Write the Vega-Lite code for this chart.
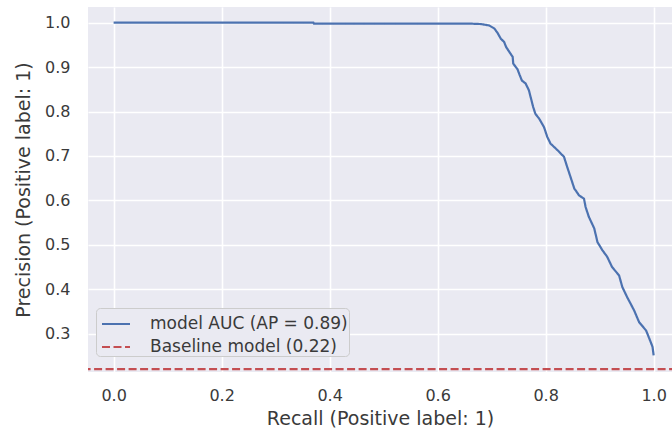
{
  "$schema": "https://vega.github.io/schema/vega-lite/v6.json",
  "width": 584,
  "height": 365,
  "autosize": {"type": "none"},
  "padding": {"left": 88, "top": 7, "right": 0, "bottom": 58},
  "background": "white",
  "config": {
    "font": "DejaVu Sans",
    "view": {"fill": "#EAEAF2", "stroke": null},
    "axis": {
      "grid": true,
      "gridColor": "white",
      "gridWidth": 1.6,
      "domain": false,
      "ticks": false,
      "labelFont": "DejaVu Sans",
      "labelFontSize": 16,
      "labelColor": "#3a3a3a",
      "titleFont": "DejaVu Sans",
      "titleFontSize": 19,
      "titleFontWeight": "normal",
      "titleColor": "#3a3a3a"
    },
    "legend": {
      "labelFont": "DejaVu Sans",
      "labelFontSize": 17,
      "labelColor": "#3a3a3a",
      "labelLimit": 400
    }
  },
  "data": {
    "values": [
      {"recall": 0.0, "precision": 1.0, "series": "model AUC (AP = 0.89)"},
      {"recall": 0.37, "precision": 1.0, "series": "model AUC (AP = 0.89)"},
      {"recall": 0.371, "precision": 0.998, "series": "model AUC (AP = 0.89)"},
      {"recall": 0.66, "precision": 0.998, "series": "model AUC (AP = 0.89)"},
      {"recall": 0.68, "precision": 0.997, "series": "model AUC (AP = 0.89)"},
      {"recall": 0.695, "precision": 0.994, "series": "model AUC (AP = 0.89)"},
      {"recall": 0.705, "precision": 0.987, "series": "model AUC (AP = 0.89)"},
      {"recall": 0.711, "precision": 0.977, "series": "model AUC (AP = 0.89)"},
      {"recall": 0.717, "precision": 0.964, "series": "model AUC (AP = 0.89)"},
      {"recall": 0.723, "precision": 0.957, "series": "model AUC (AP = 0.89)"},
      {"recall": 0.727, "precision": 0.945, "series": "model AUC (AP = 0.89)"},
      {"recall": 0.734, "precision": 0.932, "series": "model AUC (AP = 0.89)"},
      {"recall": 0.739, "precision": 0.923, "series": "model AUC (AP = 0.89)"},
      {"recall": 0.740, "precision": 0.908, "series": "model AUC (AP = 0.89)"},
      {"recall": 0.748, "precision": 0.895, "series": "model AUC (AP = 0.89)"},
      {"recall": 0.752, "precision": 0.882, "series": "model AUC (AP = 0.89)"},
      {"recall": 0.756, "precision": 0.870, "series": "model AUC (AP = 0.89)"},
      {"recall": 0.763, "precision": 0.863, "series": "model AUC (AP = 0.89)"},
      {"recall": 0.769, "precision": 0.848, "series": "model AUC (AP = 0.89)"},
      {"recall": 0.773, "precision": 0.829, "series": "model AUC (AP = 0.89)"},
      {"recall": 0.777, "precision": 0.810, "series": "model AUC (AP = 0.89)"},
      {"recall": 0.781, "precision": 0.795, "series": "model AUC (AP = 0.89)"},
      {"recall": 0.788, "precision": 0.784, "series": "model AUC (AP = 0.89)"},
      {"recall": 0.797, "precision": 0.765, "series": "model AUC (AP = 0.89)"},
      {"recall": 0.803, "precision": 0.743, "series": "model AUC (AP = 0.89)"},
      {"recall": 0.809, "precision": 0.728, "series": "model AUC (AP = 0.89)"},
      {"recall": 0.822, "precision": 0.713, "series": "model AUC (AP = 0.89)"},
      {"recall": 0.834, "precision": 0.698, "series": "model AUC (AP = 0.89)"},
      {"recall": 0.840, "precision": 0.675, "series": "model AUC (AP = 0.89)"},
      {"recall": 0.846, "precision": 0.653, "series": "model AUC (AP = 0.89)"},
      {"recall": 0.853, "precision": 0.627, "series": "model AUC (AP = 0.89)"},
      {"recall": 0.862, "precision": 0.611, "series": "model AUC (AP = 0.89)"},
      {"recall": 0.871, "precision": 0.604, "series": "model AUC (AP = 0.89)"},
      {"recall": 0.874, "precision": 0.585, "series": "model AUC (AP = 0.89)"},
      {"recall": 0.880, "precision": 0.563, "series": "model AUC (AP = 0.89)"},
      {"recall": 0.890, "precision": 0.537, "series": "model AUC (AP = 0.89)"},
      {"recall": 0.896, "precision": 0.506, "series": "model AUC (AP = 0.89)"},
      {"recall": 0.905, "precision": 0.488, "series": "model AUC (AP = 0.89)"},
      {"recall": 0.914, "precision": 0.473, "series": "model AUC (AP = 0.89)"},
      {"recall": 0.923, "precision": 0.450, "series": "model AUC (AP = 0.89)"},
      {"recall": 0.936, "precision": 0.431, "series": "model AUC (AP = 0.89)"},
      {"recall": 0.942, "precision": 0.405, "series": "model AUC (AP = 0.89)"},
      {"recall": 0.951, "precision": 0.382, "series": "model AUC (AP = 0.89)"},
      {"recall": 0.964, "precision": 0.352, "series": "model AUC (AP = 0.89)"},
      {"recall": 0.973, "precision": 0.326, "series": "model AUC (AP = 0.89)"},
      {"recall": 0.986, "precision": 0.307, "series": "model AUC (AP = 0.89)"},
      {"recall": 0.992, "precision": 0.289, "series": "model AUC (AP = 0.89)"},
      {"recall": 0.998, "precision": 0.270, "series": "model AUC (AP = 0.89)"},
      {"recall": 1.0, "precision": 0.251, "series": "model AUC (AP = 0.89)"},
      {"recall": -0.1, "precision": 0.22, "series": "Baseline model (0.22)"},
      {"recall": 1.1, "precision": 0.22, "series": "Baseline model (0.22)"}
    ]
  },
  "mark": {"type": "line", "clip": true, "strokeWidth": 2.2},
  "encoding": {
    "x": {
      "field": "recall",
      "type": "quantitative",
      "scale": {"domain": [-0.0474, 1.034], "nice": false, "zero": false},
      "axis": {"values": [0, 0.2, 0.4, 0.6, 0.8, 1.0], "format": ".1f", "title": "Recall (Positive label: 1)", "labelPadding": 15, "titlePadding": 6}
    },
    "y": {
      "field": "precision",
      "type": "quantitative",
      "scale": {"domain": [0.2136, 1.0354], "nice": false, "zero": false},
      "axis": {"values": [0.3, 0.4, 0.5, 0.6, 0.7, 0.8, 0.9, 1.0], "format": ".1f", "title": "Precision (Positive label: 1)", "labelPadding": 18, "titlePadding": 11}
    },
    "color": {
      "field": "series",
      "type": "nominal",
      "scale": {"domain": ["model AUC (AP = 0.89)", "Baseline model (0.22)"], "range": ["#4C72B0", "#C44E52"]},
      "legend": {
        "title": null,
        "orient": "none",
        "legendX": 8,
        "legendY": 301,
        "symbolType": "stroke",
        "symbolSize": 784,
        "symbolStrokeWidth": 2,
        "symbolOffset": 4,
        "fillColor": "#EAEAF2",
        "strokeColor": "#CCCCCC",
        "cornerRadius": 4,
        "padding": 1,
        "rowPadding": -3,
        "labelOffset": 19
      }
    },
    "strokeDash": {
      "field": "series",
      "type": "nominal",
      "scale": {"domain": ["model AUC (AP = 0.89)", "Baseline model (0.22)"], "range": [[1, 0], [8, 3.5]]},
      "legend": {
        "title": null,
        "orient": "none",
        "legendX": 8,
        "legendY": 301,
        "symbolType": "stroke",
        "symbolSize": 784,
        "symbolStrokeWidth": 2,
        "symbolOffset": 4,
        "fillColor": "#EAEAF2",
        "strokeColor": "#CCCCCC",
        "cornerRadius": 4,
        "padding": 1,
        "rowPadding": -3,
        "labelOffset": 19
      }
    },
    "order": {"field": "recall", "type": "quantitative"}
  }
}
